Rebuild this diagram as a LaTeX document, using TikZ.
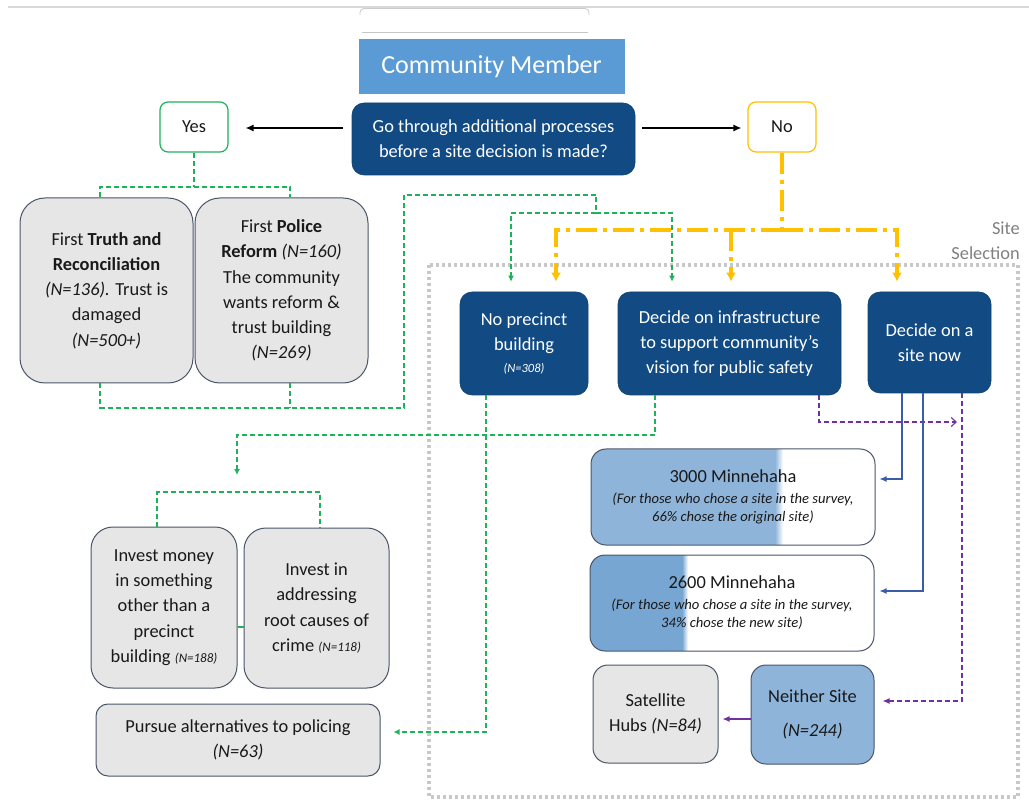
\documentclass[tikz,border=0pt]{standalone}
\usepackage{fontspec}
\setmainfont{Carlito}
\usetikzlibrary{arrows.meta,calc}
\definecolor{dblue}{HTML}{124B84}
\definecolor{cmblue}{HTML}{5B9BD5}
\definecolor{gbox}{HTML}{E7E6E6}
\definecolor{gborder}{HTML}{4A5568}
\definecolor{ggreen}{HTML}{1FB25A}
\definecolor{gold}{HTML}{FFC000}
\definecolor{purp}{HTML}{7030A0}
\definecolor{sblue}{HTML}{3B5DA8}
\definecolor{lblue}{HTML}{8EB4DA}
\definecolor{mblue}{HTML}{78A6D2}
\definecolor{dotgray}{HTML}{C8C8C8}
\definecolor{labgray}{HTML}{808080}
\begin{document}
\begin{tikzpicture}[x=1pt,y=-1pt,
  every node/.style={inner sep=0pt, align=center, font=\fontsize{18.4}{25.3}\selectfont, text=black!90},
  darkbox/.style={rounded corners=12pt, fill=dblue, draw=dblue!85!black, line width=0.6pt, text=white},
  graybox/.style={fill=gbox, draw=gborder, line width=1pt},
  smallbox/.style={fill=white, line width=1.2pt, rounded corners=8pt, minimum width=68pt, minimum height=50pt},
  gdash/.style={draw=ggreen, line width=1.2pt, dash pattern=on 5pt off 3pt},
  garrow/.style={gdash, -{Latex[length=6pt,width=6pt]}},
  golddash/.style={draw=gold, line width=3.2pt, dash pattern=on 21pt off 6pt on 4pt off 6pt},
  goldarrow/.style={golddash, -{Latex[length=9pt,width=10pt]}},
  pdash/.style={draw=purp, line width=1.1pt, dash pattern=on 5pt off 3pt},
  blarrow/.style={draw=sblue, line width=1.2pt, -{Latex[length=7pt,width=6pt]}},
  minnebox/.style={fill=white, draw=gborder, line width=1pt, rounded corners=15pt, minimum width=284pt, minimum height=96pt,
    font=\fontsize{14.6}{18}\selectfont\itshape}
]
\useasboundingbox (0,0) rectangle (1029,802);

% top frame
\draw[gray!30, line width=1.4pt] (8,7) -- (1029,7);
\draw[gray!40, line width=0.9pt, rounded corners=4pt] (360,15) -- (360,8.5) -- (589,8.5) -- (589,15);
\draw[gray!45, line width=0.9pt] (362,32) -- (588,32);

% site selection area
\draw[dotgray, line width=3.5pt, dash pattern=on 3pt off 3pt] (429,265) rectangle (1018,797);
\node[anchor=east, align=right, text=labgray] (sitesel) at (1020,241) {Site\\Selection};

% top nodes
\node[fill=cmblue, minimum width=266pt, minimum height=55pt, text=white, font=\fontsize{26}{30}\selectfont] (cm) at (491.5,66.5) {Community Member};
\node[darkbox, minimum width=283pt, minimum height=72pt] (q) at (493.5,139) {Go through additional processes\\before a site decision is made?};
\node[smallbox, draw=ggreen] (yes) at (194,127) {Yes};
\node[smallbox, draw=gold] (no) at (782,127) {No};

% left branch
\node[graybox, rounded corners=25pt, minimum width=173pt, minimum height=185pt] (truth) at (106.5,290.5)
  {First \textbf{Truth and}\\\textbf{Reconciliation}\\\textit{(N=136).} Trust is\\damaged\\\textit{(N=500+)}};
\node[graybox, rounded corners=25pt, minimum width=173pt, minimum height=185pt] (police) at (281.5,290.5)
  {First \textbf{Police}\\\textbf{Reform} \textit{(N=160)}\\The community\\wants reform \&\\trust building\\\textit{(N=269)}};

% decision boxes
\node[darkbox, minimum width=128pt, minimum height=103pt] (np) at (524,343.5)
  {No precinct\\building\\[-4pt]{\fontsize{12.5}{14}\selectfont\itshape (N=308)}};
\node[darkbox, minimum width=223pt, minimum height=103pt] (infra) at (729.5,343.5)
  {Decide on infrastructure\\to support community’s\\vision for public safety};
\node[darkbox, minimum width=123pt, minimum height=101pt] (site) at (929.5,342.5)
  {Decide on a\\site now};

% site options
\node[minnebox, path picture={
    \fill[lblue, sharp corners] (path picture bounding box.south west) rectangle ([xshift=185pt]path picture bounding box.north west);
    \foreach \i/\p in {0/88,1/75,2/62,3/50,4/38,5/25,6/12}{
      \fill[lblue!\p!white, sharp corners] ([xshift=185pt+\i pt]path picture bounding box.south west) rectangle ([xshift=186.2pt+\i pt]path picture bounding box.north west);}}] (m3000) at (733,497)
  {{\upshape\fontsize{18.4}{20}\selectfont 3000 Minnehaha}\\[3pt](For those who chose a site in the survey,\\66\% chose the original site)};
\node[minnebox, path picture={
    \fill[mblue, sharp corners] (path picture bounding box.south west) rectangle ([xshift=93pt]path picture bounding box.north west);
    \foreach \i/\p in {0/85,1/68,2/50,3/33,4/16}{
      \fill[mblue!\p!white, sharp corners] ([xshift=93pt+\i pt]path picture bounding box.south west) rectangle ([xshift=94.2pt+\i pt]path picture bounding box.north west);}}] (m2600) at (732,603)
  {{\upshape\fontsize{18.4}{20}\selectfont 2600 Minnehaha}\\[3pt](For those who chose a site in the survey,\\34\% chose the new site)};
\node[graybox, rounded corners=15pt, minimum width=125pt, minimum height=98pt] (sat) at (655.5,714)
  {Satellite\\Hubs \textit{(N=84)}};
\node[fill=lblue, draw=gborder, line width=1pt, rounded corners=15pt, minimum width=123pt, minimum height=99pt] (neither) at (812.5,714.5)
  {Neither Site\\[9pt]\textit{(N=244)}};

% invest boxes
\node[graybox, rounded corners=22pt, minimum width=146pt, minimum height=161pt] (invm) at (164,607.5)
  {Invest money\\in something\\other than a\\precinct\\building {\fontsize{13}{14}\selectfont\itshape (N=188)}};
\node[graybox, rounded corners=22pt, minimum width=145pt, minimum height=160pt] (invr) at (316.5,608)
  {Invest in\\addressing\\root causes of\\crime {\fontsize{13}{14}\selectfont\itshape (N=118)}};
\node[graybox, rounded corners=12pt, minimum width=284pt, minimum height=72pt] (pursue) at (238,740)
  {Pursue alternatives to policing\\\textit{(N=63)}};

% coordinates
\coordinate (yb) at (194,187);
\coordinate (gj) at (782,230);
\coordinate (ga) at (237,475);
\coordinate (ib) at (320,492);
\coordinate (pa) at (957,422);

% main arrows
\draw[line width=1.3pt, -{Latex[length=8pt,width=7pt]}] ([xshift=-9pt,yshift=11pt]q.west) -- ([xshift=17pt,yshift=-1pt]yes.east);
\draw[line width=1.3pt, -{Latex[length=8pt,width=7pt]}] ([xshift=7pt,yshift=11pt]q.east) -- ([xshift=-6pt,yshift=-1pt]no.west);

% yes branch
\draw[gdash] (yes.south) -- (yb);
\draw[gdash] ([xshift=-6.5pt]truth.north) |- (yb) -| ([xshift=8.5pt]police.north);
\draw[gdash] ([xshift=-6.5pt]truth.south) |- (404,408) -- (404,195) -- (596,195) -- (596,213);
\draw[gdash] ([xshift=8.5pt]police.south) -- ++(0,25);
\draw[garrow, shorten >=10pt] (596,213) -| ([xshift=-13pt]np.north);
\draw[garrow, shorten >=10pt] (596,213) -| ([xshift=-57.5pt]infra.north);

% no branch
\draw[golddash] (no.south) -- (gj);
\draw[goldarrow, shorten >=10pt] (gj) -| ([xshift=32pt]np.north);
\draw[goldarrow, shorten >=10pt] (gj) -| ([xshift=-32.5pt]site.north);
\draw[goldarrow, shorten >=10pt] (731,230) -- ([xshift=1.5pt]infra.north);

% from no precinct / infrastructure
\draw[garrow] ([xshift=-38pt]np.south) |- ([xshift=13pt,yshift=8pt]pursue.east);
\draw[garrow] ([xshift=-74.5pt]infra.south) |- (237,435) -- (ga);
\draw[gdash] ([xshift=-7pt]invm.north) |- (ib) -- ([xshift=3.5pt]invr.north);
\draw[ggreen, line width=1.2pt] ([yshift=-19.5pt]invm.east) -- ([yshift=-19pt]invr.west);

% purple
\draw[pdash, -{Straight Barb[length=5pt,width=9pt]}] ([xshift=89.5pt]infra.south) |- (pa);
\draw[pdash, -{Latex[length=7pt,width=6pt]}] ([xshift=32.5pt]site.south) |- ([xshift=8pt,yshift=13.5pt]neither.east);
\draw[draw=purp, line width=1.2pt, -{Latex[length=7pt,width=6pt]}] ([yshift=-4.5pt]neither.west) -- ([xshift=4pt,yshift=-5pt]sat.east);

% blue
\draw[blarrow] ([xshift=-27.5pt]site.south) |- ([xshift=4pt,yshift=18pt]m3000.east);
\draw[blarrow] ([xshift=-6.5pt]site.south) |- ([xshift=5pt,yshift=12pt]m2600.east);
\end{tikzpicture}
\end{document}
